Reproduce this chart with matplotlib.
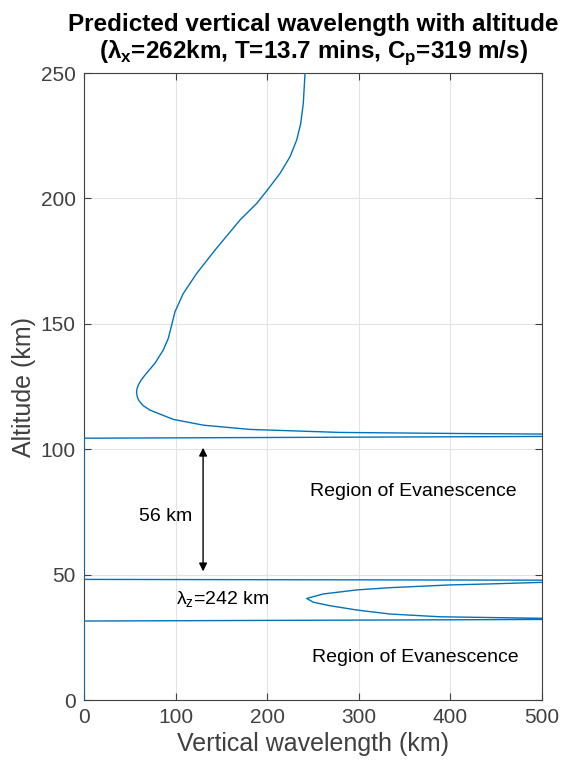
import matplotlib
matplotlib.use("Agg")
import matplotlib.pyplot as plt

plt.rcParams['font.family'] = ['Liberation Sans', 'DejaVu Sans']

# curve: vertical wavelength (km) vs altitude (km)
lam_z = [0, 0, 800, 497.8, 388.6, 334, 297.7, 268.6, 250.3, 243.1, 261.3, 297.7, 334, 399.6, 443, 497.8, 1000,
         0, 0, 1000, 500, 400, 279.5, 181.2, 130.2, 97.5, 72, 64.5, 60.3, 58.2, 57.4, 57.8, 59.3, 62.5, 66.6, 77.5, 86.6,
         92, 95.7, 99.3, 108.4, 123, 143, 170.3, 188.5, 200.1, 214, 224.9, 232.2, 236.6, 239.4, 241.3]
altitud = [0, 31.5, 32.5, 32.6, 33.2, 34.3, 35.9, 37.6, 39, 40.5, 42.3, 43.9, 44.8, 45.9, 46.3, 46.9, 47.5,
           48.1, 104.4, 105.8, 106.05, 106.3, 106.7, 107.9, 109.6, 111.9, 115.6, 117.4, 119.2, 120.8, 122.5, 124, 125.6, 127.6, 129.6, 134.3, 139.6,
           144.2, 149.5, 154.8, 162.1, 170.1, 179.4, 191.4, 198, 203.3, 210, 216.6, 223.3, 229.9, 237.9, 250]

xticks = [0, 100, 200, 300, 400, 500]
yticks = [0, 50, 100, 150, 200, 250]

gris = '#404040'

fig = plt.figure(figsize=(5.63, 7.6), dpi=100)
ax = fig.add_axes([0.1492, 0.0789, 0.8135, 0.8250])

ax.plot(lam_z, altitud, color='#0072BD', lw=1.0, zorder=3)

ax.set_xlim(0, 500)
ax.set_ylim(0, 250)
ax.set_xticks(xticks)
ax.set_yticks(yticks)
ax.grid(True, color='#e3e3e3', lw=0.8)
ax.set_axisbelow(True)
ax.tick_params(direction='in', top=True, right=True, length=5, width=0.8,
               colors=gris, labelsize=15, pad=6)
for s in ax.spines.values():
    s.set_color(gris)
    s.set_linewidth(0.8)

ax.set_xlabel('Vertical wavelength (km)', fontsize=18, color=gris, labelpad=3)
ax.set_ylabel('Altitude (km)', fontsize=18, color=gris, labelpad=3)
ax.set_title('Predicted vertical wavelength with altitude\n'
             r'(λ$_\mathregular{x}$=262km, T=13.7 mins, C$_\mathregular{p}$=319 m/s)',
             fontsize=17.5, fontweight='bold', pad=11, linespacing=1.12)

# anotaciones
ax.annotate('', xy=(130, 50.2), xytext=(130, 101.7),
            arrowprops=dict(arrowstyle='<|-|>', color='black', lw=1, mutation_scale=12))
ax.text(118, 73, '56 km', fontsize=14, ha='right', va='center')
ax.text(359, 83, 'Region of Evanescence', fontsize=14, ha='center', va='center')
ax.text(362, 17, 'Region of Evanescence', fontsize=14, ha='center', va='center')
ax.text(100, 40, r'λ$_\mathregular{z}$=242 km', fontsize=14, ha='left', va='center')

fig.savefig('out.png', dpi=100)
